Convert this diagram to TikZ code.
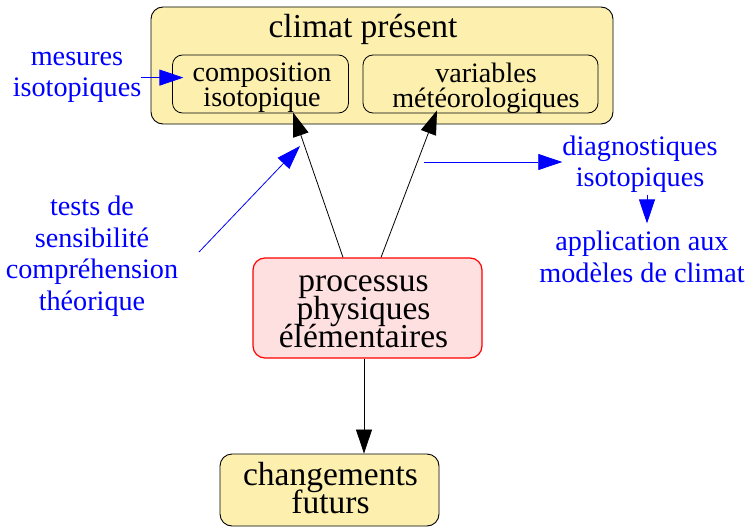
\documentclass[tikz,border=0pt]{standalone}
\usepackage{fontspec}
\setmainfont{Liberation Serif}
\usetikzlibrary{arrows.meta}
\definecolor{jauneclimat}{RGB}{253,240,175}
\definecolor{roseproc}{RGB}{255,224,224}
\newcommand{\grandtexte}{\fontsize{33.5}{28}\selectfont\lineskiplimit=-50pt}
\newcommand{\petittexte}{\fontsize{28.1}{25}\selectfont\lineskiplimit=-50pt}
\newcommand{\textebleu}{\fontsize{28.2}{31.5}\selectfont\lineskiplimit=-50pt}

\begin{document}
\begin{tikzpicture}[x=1pt, y=-1pt,
    boite/.style={draw, fill=jauneclimat, rounded corners=12pt, line width=0.9pt, inner sep=0pt},
    sousboite/.style={draw, rounded corners=10pt, line width=0.8pt, inner sep=0pt, minimum height=58pt},
    texte/.style={inner sep=0pt, align=center},
    bleu/.style={texte, text=blue, font=\textebleu},
    fleche/.style={-{Triangle[length=24pt, width=16pt]}, line width=0.8pt},
    flechebleue/.style={fleche, blue}]
    \useasboundingbox (0,0) rectangle (747,527);

    % Climat present et ses deux sous-boites
    \node[boite, minimum width=462pt, minimum height=117pt] (climat) at (382,65.5) {};
    \node[texte, font=\grandtexte, anchor=base] (titre) at (363,38) {climat présent};
    \node[sousboite, minimum width=176pt] (compo) at (260.5,84) {};
    \node[texte, font=\petittexte] (compotexte) at (262,88) {composition\\isotopique};
    \node[sousboite, minimum width=235pt] (var) at (480.5,84) {};
    \node[texte, font=\petittexte] (vartexte) at (486,88) {variables\\météorologiques};

    % Processus physiques
    \node[draw=red, fill=roseproc, rounded corners=12pt, line width=1.2pt, inner sep=0pt,
        minimum width=229pt, minimum height=100pt] (proc) at (367.5,308) {};
    \node[texte, font=\grandtexte] (proctexte) at (363.5,311.3) {processus\\physiques\\élémentaires};

    % Changements futurs
    \node[boite, minimum width=219pt, minimum height=72pt] (chang) at (329.5,490) {};
    \node[texte, font=\grandtexte] (changtexte) at (330.5,488.5) {changements\\futurs};

    % Textes bleus
    \node[bleu] (mesures) at (77,77.6) {mesures\\isotopiques};
    \node[bleu] (tests) at (92,256) {tests de\\sensibilité\\compréhension\\théorique};
    \node[bleu] (diag) at (640,164) {diagnostiques\\isotopiques};
    \node[bleu] (appli) at (642,256.7) {application aux\\modèles de climat};
    \coordinate (testsdep) at (199,252);
    \coordinate (testsfin) at (300,146);
    \coordinate (diagdep) at (424,162);

    % Fleches noires
    \draw[fleche] ([xshift=-24.5]proc.north) -- ([xshift=32.5,yshift=1]compo.south);
    \draw[fleche] ([xshift=13.5]proc.north) -- ([xshift=-43.5,yshift=3]var.south);
    \draw[fleche] ([xshift=-3.5]proc.south) -- ([xshift=34.5]chang.north);

    % Fleches bleues
    \draw[flechebleue] (mesures.east) -- ++(42,0);
    \draw[flechebleue] (testsdep) -- (testsfin);
    \draw[flechebleue] (diagdep) -- ([yshift=2]diag.west);
    \draw[flechebleue] ([shift={(7,2)}]diag.south) -- ([shift={(5,-7.4)}]appli.north);
\end{tikzpicture}
\end{document}
